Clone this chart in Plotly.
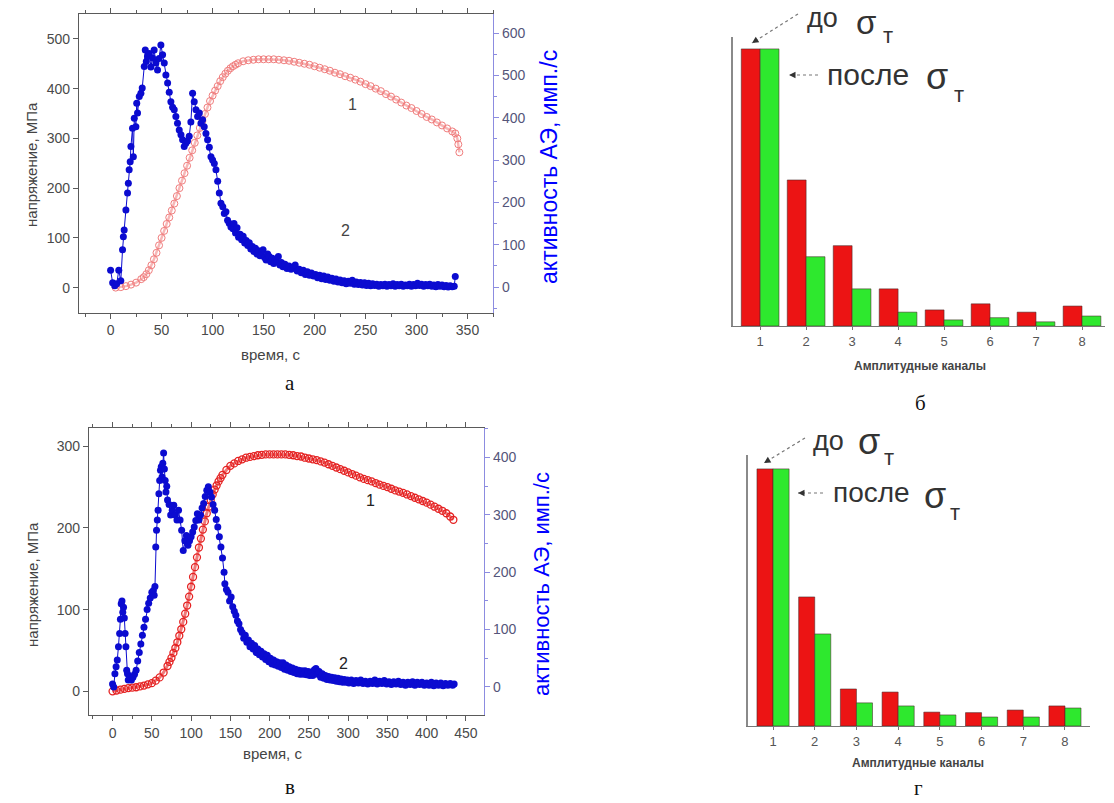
import plotly.graph_objects as go

W, H = 1114, 803

# ---------------- Panel a: stress (curve 1) ----------------
a_stress_t = [5, 10, 15, 20, 25, 30, 32.5, 35, 37.5, 40, 42.5, 45, 47.5, 50, 52.5, 55, 57.5, 60, 62.5, 65,
              67.5, 70, 72.5, 75, 77.5, 80, 82.5, 85, 87.5, 90, 92.5, 95, 97.5, 100, 102.5, 105, 107.5, 110,
              112.5, 115, 117.5, 120, 122.5, 125, 130, 135, 140, 145, 150, 155, 160, 165, 170, 175, 180, 185,
              190, 195, 200, 205, 210, 215, 220, 225, 230, 235, 240, 245, 250, 255, 260, 265, 270, 275, 280,
              285, 290, 295, 300, 305, 310, 315, 320, 325, 330, 335, 338, 340, 341, 342]
a_stress_mpa = [0, 1, 3, 6, 10, 17, 21, 27, 35, 45, 57, 70, 85, 100, 114, 128, 141, 155, 169, 184,
                200, 215, 230, 245, 261, 276, 291, 306, 321, 335, 349, 362, 375, 386, 396, 405, 415, 423,
                430, 436, 441, 445, 448, 451, 455, 457, 458, 459, 459, 459, 459, 458, 457, 456, 454, 452,
                450, 448, 445, 442, 439, 436, 432, 429, 425, 422, 418, 414, 409, 405, 400, 395, 389, 384, 378,
                372, 366, 361, 355, 349, 343, 338, 332, 326, 320, 314, 310, 300, 288, 272]

# ---------------- Panel a: AE activity (curve 2) ----------------
a_ae_t_rise = [0, 2, 4, 6, 8, 10, 11.7, 12.5, 13.3, 15, 16.6, 17.4, 18.2, 19.2, 19.9, 21.5, 22.3, 23.2, 24.8,
               25.6, 26.4, 28.1, 29.7, 31, 33, 34, 35, 36.2, 37.9, 39.5, 41.1, 42.7, 44.4, 46, 47.6, 49.3,
               51, 52.6, 54.2, 55.9, 57.5, 59.1, 60.8, 62.4, 64, 65.6, 67.3, 69, 70.6, 72.2, 73.8, 75.4,
               77.1, 78.7, 80.4, 82, 83.7, 85.3, 87, 88.6, 90.2, 91.8, 93.5, 95.1, 96.8, 98.4, 100, 101.7,
               103.3, 105, 106.6, 108.2, 110, 111.5, 113.1, 114.7, 116.3, 118]
a_ae_v_rise = [40, 10, 3, 8, 40, 15, 88, 119, 135, 182, 222, 245, 277, 296, 332, 375, 308, 399, 379,
               434, 411, 450, 458, 470, 521, 560, 533, 545, 552, 520, 541, 560, 529, 513, 540, 572,
               549, 529, 501, 482, 460, 438, 425, 419, 403, 387, 371, 360, 348, 332, 340, 345,
               356, 390, 458, 438, 419, 403, 411, 387, 395, 379, 363, 348, 330, 308, 300, 292,
               277, 250, 222, 198, 190, 174, 178, 158, 151, 142]
a_ae_t_tail = [120, 121, 122.5, 124, 125.5, 127, 128.5, 130, 131.5, 133, 134.5, 136, 137.5, 139, 140.5, 142,
               143.5, 145, 146.5, 148, 149.5, 151, 152.5, 154, 155.5, 157, 158.5, 160, 161.5, 163, 164.5,
               166, 167.5, 169,
               171, 173, 175, 177, 179, 181, 183, 185, 187, 189, 191, 193, 195, 197, 199, 201, 203, 205,
               207, 209, 211, 213, 215, 217, 219, 221, 223, 225, 227, 229, 231, 233, 235, 237, 239, 241,
               243, 245, 247, 249, 251, 253, 255, 257, 259, 261, 263, 265, 267, 269, 271, 273, 275, 277,
               279, 281, 283, 285, 287, 289, 291, 293, 295, 297, 299, 301, 303, 305, 307, 309, 311, 313,
               315, 317, 319, 321, 323, 325, 327, 329, 331, 333, 335, 337, 338]
a_ae_v_tail = [138, 150, 128, 140, 118, 125, 112, 120, 104, 110, 98, 105, 90, 96, 84, 92,
               78, 86, 74, 82, 88, 70, 64, 78, 72, 60, 68, 56, 66, 60, 72,
               52, 58, 48,
               54, 44, 50, 42, 46, 52, 38, 42, 34, 40, 30, 36, 28, 33, 26, 30, 22, 28,
               20, 26, 18, 24, 16, 21, 14, 19, 12, 17, 10, 15, 8, 14, 9, 16, 7, 12,
               6, 11, 5, 10, 4, 9, 3, 8, 4, 7, 2, 6, 3, 7, 2, 6, 3, 8,
               2, 6, 3, 7, 2, 5, 3, 7, 2, 6, 3, 9, 4, 7, 2, 6, 3, 7,
               2, 5, 1, 6, 2, 5, 1, 4, 0, 3, 1, 2, 25]

# ---------------- Panel v: stress (curve 1) ----------------
v_stress_t = [0, 5, 10, 15, 20, 25, 30, 35, 40, 45, 50, 55, 60, 65, 70, 72.5, 75, 77.5, 80, 82.5, 85, 87.5,
              90, 92.5, 95, 97.5, 100, 102.5, 105, 107.5, 110, 112.5, 115, 117.5, 120, 122.5, 125, 127.5,
              130, 132.5, 135, 137.5, 140, 145, 150, 155, 160, 165, 170, 175, 180, 185, 190, 195, 200, 205,
              210, 215, 220, 225, 230, 235, 240, 245, 250, 255, 260, 265, 270, 275, 280, 285, 290, 295,
              300, 305, 310, 315, 320, 325, 330, 335, 340, 345, 350, 355, 360, 365, 370, 375, 380, 385,
              390, 395, 400, 405, 410, 415, 420, 425, 430, 434]
v_stress_mpa = [0, 1, 2, 3, 4, 4.5, 5, 6, 7, 8.5, 10, 13, 17, 23, 31, 36, 41, 47, 53, 60, 68, 76,
                85, 95, 105, 116, 128, 140, 152, 164, 176, 187, 198, 208, 218, 226, 234, 241,
                247, 252, 257, 261, 265, 271, 276, 279, 282, 284, 286, 287, 288, 289, 289.5, 290, 290, 290,
                290, 290, 290, 289.5, 289, 288, 287.5, 286, 285, 284, 283, 281.5, 280, 278, 276, 274, 272, 270,
                268, 266, 264, 262, 260, 258.5, 257, 255, 253, 251.5, 250, 248, 246, 244.5, 243, 241, 239, 237,
                235, 233, 231, 228.5, 226, 223.5, 221, 218, 214, 210]

# ---------------- Panel v: AE activity (curve 2) ----------------
v_ae_t_rise = [0, 1.5, 3, 4.5, 6, 7.5, 9, 10, 11, 12, 13, 14, 15, 16, 17, 18, 19, 20,
               22, 24, 26, 28, 30, 32, 34, 36, 38, 40, 42, 44, 46, 48, 50, 52,
               53, 54, 55, 56, 57, 58, 59, 60, 61, 62, 63, 64, 65, 66, 67, 68, 69, 70,
               72, 74, 76, 78, 80, 82, 84, 86, 88, 90, 92, 94, 96, 98, 100, 102, 104, 106, 108, 110,
               112, 114, 116, 118, 120, 122, 124, 126, 128, 130, 132, 134, 136, 138, 140, 142]
v_ae_v_rise = [5, 0, 23, 35, 47, 70, 93, 118, 145, 150, 130, 139, 120, 93, 70, 29, 23, 12,
               18, 12, 17, 22, 29, 45, 60, 75, 90, 104, 118, 135, 146, 155, 165, 168,
               160, 175, 244, 273, 291, 308, 337, 360, 378, 384, 366, 390, 408, 380, 360, 340, 350, 326,
               318, 300, 308, 317, 300, 291, 308, 291, 273, 238, 255, 264, 247, 255, 262, 270, 279, 290, 302, 291,
               300, 312, 320, 332, 343, 349, 340, 331, 318, 308, 292, 279, 262, 244, 225, 200]
v_ae_t_tail = [143, 145, 147, 149, 151, 153, 155, 157, 159, 161, 163, 165, 167, 169, 171, 173, 175, 177, 179,
               181, 183, 185, 187, 189, 191, 193, 195, 197, 199, 201, 203, 205, 207, 209, 211, 213, 215,
               217, 219, 221, 223, 225, 227, 229, 231, 233, 235, 237, 239, 241, 243, 245, 247, 249, 251,
               253, 255, 257, 259, 261, 263, 265, 267, 269, 271, 273, 275, 277, 279, 281, 283, 285, 287,
               289, 291, 293, 295, 297, 299,
               301, 304, 307, 310, 313, 316, 319, 322, 325, 328, 331, 334, 337, 340, 343, 346, 349, 352,
               355, 358, 361, 364, 367, 370, 373, 376, 379, 382, 385, 388, 391, 394, 397, 400, 403, 406,
               409, 412, 415, 418, 421, 424, 427, 430, 433, 435]
v_ae_v_tail = [180, 170, 165, 150, 157, 140, 132, 125, 115, 110, 100, 95, 85, 90, 78, 82, 70, 76, 66,
               72, 60, 66, 56, 62, 52, 58, 48, 55, 44, 50, 40, 47, 38, 44, 36, 42, 34,
               42, 31, 38, 29, 35, 27, 33, 25, 31, 23, 29, 22, 28, 22, 28, 21, 27, 20,
               26, 20, 30, 32, 22, 27, 17, 23, 15, 20, 13, 18, 12, 17, 11, 16, 10, 15,
               9, 14, 8, 13, 8, 12,
               7, 12, 6, 11, 7, 12, 6, 10, 5, 10, 6, 12, 5, 10, 6, 11, 5, 9,
               4, 9, 5, 10, 4, 8, 3, 8, 4, 9, 3, 8, 4, 8, 3, 7, 3, 8,
               2, 7, 3, 7, 2, 6, 3, 6, 3, 5]

# ---------------- Bar panels ----------------
channels = [1, 2, 3, 4, 5, 6, 7, 8]
b_before = [100, 52.7, 29, 13.4, 5.8, 8, 5, 7.2]
b_after = [100, 25, 13.4, 5, 2.2, 3, 1.5, 3.6]
g_before = [100, 50.2, 14.4, 13.2, 5.4, 5.2, 6.2, 7.8]
g_after = [100, 35.8, 9, 7.8, 4.3, 3.5, 3.5, 7]

FONT = "Liberation Sans, Arial, sans-serif"
RED_A = "#f07c7c"
RED_V = "#e52222"
BLUE = "#0b0bd0"
BAR_RED = "#ec1414"
BAR_GREEN = "#2ee82e"


def px(x):
    return x / W


def py(y):
    return 1 - y / H


fig = go.Figure()

# Panel a
fig.add_trace(go.Scatter(x=a_stress_t, y=a_stress_mpa, mode="lines+markers", xaxis="x", yaxis="y",
                         line=dict(color="rgba(240,124,124,0.55)", width=2.5),
                         marker=dict(symbol="circle-open", size=7, color=RED_A, line=dict(width=1))))
fig.add_trace(go.Scatter(x=a_ae_t_rise + a_ae_t_tail, y=a_ae_v_rise + a_ae_v_tail, mode="lines+markers",
                         xaxis="x", yaxis="y2", line=dict(color=BLUE, width=1),
                         marker=dict(size=7, color=BLUE)))
# Panel v
fig.add_trace(go.Scatter(x=v_stress_t, y=v_stress_mpa, mode="lines+markers", xaxis="x3", yaxis="y3",
                         line=dict(color="rgba(229,34,34,0.6)", width=3),
                         marker=dict(symbol="circle-open", size=7, color=RED_V, line=dict(width=1.3))))
fig.add_trace(go.Scatter(x=v_ae_t_rise + v_ae_t_tail, y=v_ae_v_rise + v_ae_v_tail, mode="lines+markers",
                         xaxis="x3", yaxis="y4", line=dict(color=BLUE, width=1),
                         marker=dict(size=7, color=BLUE)))
# Bars б
bar_line = dict(color="rgba(70,40,40,0.55)", width=1)
fig.add_trace(go.Bar(x=channels, y=b_before, xaxis="x5", yaxis="y5", width=0.41, offset=-0.41,
                     marker=dict(color=BAR_RED, line=bar_line)))
fig.add_trace(go.Bar(x=channels, y=b_after, xaxis="x5", yaxis="y5", width=0.41, offset=0,
                     marker=dict(color=BAR_GREEN, line=bar_line)))
# Bars г
fig.add_trace(go.Bar(x=channels, y=g_before, xaxis="x6", yaxis="y6", width=0.385, offset=-0.385,
                     marker=dict(color=BAR_RED, line=bar_line)))
fig.add_trace(go.Bar(x=channels, y=g_after, xaxis="x6", yaxis="y6", width=0.385, offset=0,
                     marker=dict(color=BAR_GREEN, line=bar_line)))

tickfont = dict(family=FONT, size=14, color="#4a4a4a")
rtickfont = dict(family=FONT, size=14, color="#55557a")
GRAY = "#5a5a5a"
LBLUE = "#8c8ce0"

common_x = dict(showline=True, linecolor=GRAY, linewidth=1.2, mirror="ticks", ticks="outside",
                ticklen=5, tickcolor=GRAY, tickfont=tickfont, showgrid=False, zeroline=False)
common_yl = dict(showline=True, linecolor=GRAY, linewidth=1.2, ticks="outside", ticklen=5, tickcolor=GRAY,
                 tickfont=tickfont, showgrid=False, zeroline=False)
common_yr = dict(showline=True, linecolor=LBLUE, linewidth=1.2, ticks="outside", ticklen=5, tickcolor=LBLUE,
                 tickfont=rtickfont, showgrid=False, zeroline=False, side="right")

bar_x = dict(showline=True, linecolor="#777", linewidth=1, ticks="outside", ticklen=3, tickcolor="#777",
             tickvals=channels, tickfont=dict(family=FONT, size=13, color="#555"), showgrid=False,
             zeroline=False)
bar_y = dict(showline=True, linecolor="#8a8a8a", linewidth=1.5, ticks="", showticklabels=False,
             showgrid=False, zeroline=False)

minor_x = dict(ticks="outside", ticklen=3, tickcolor=GRAY, dtick=25, tick0=0)
minor_r = dict(ticks="outside", ticklen=3, tickcolor=LBLUE, dtick=50, tick0=0)

fig.update_layout(
    width=W, height=H, margin=dict(l=0, r=0, t=0, b=0), paper_bgcolor="white", plot_bgcolor="white",
    showlegend=False, barmode="overlay",
    xaxis=dict(common_x, domain=[px(79), px(493)], range=[-31, 375], tickvals=list(range(0, 351, 50)),
               minor=minor_x, anchor="y"),
    yaxis=dict(common_yl, domain=[py(312.5), py(14)], range=[-50, 550], tickvals=list(range(0, 501, 100)),
               anchor="x"),
    yaxis2=dict(common_yr, overlaying="y", anchor="x", range=[-60, 645], tickvals=list(range(0, 601, 100)),
                minor=minor_r),
    xaxis3=dict(common_x, domain=[px(89), px(484)], range=[-30, 473], tickvals=list(range(0, 451, 50)),
                minor=minor_x, anchor="y3"),
    yaxis3=dict(common_yl, domain=[py(715), py(428.3)], range=[-29, 322], tickvals=[0, 100, 200, 300],
                anchor="x3"),
    yaxis4=dict(common_yr, overlaying="y3", anchor="x3", range=[-49, 451], tickvals=[0, 100, 200, 300, 400],
                minor=minor_r),
    xaxis5=dict(bar_x, domain=[px(733), px(1105)], range=[0.41, 8.5], anchor="y5"),
    yaxis5=dict(bar_y, domain=[py(326), py(37)], range=[0, 104.3], anchor="x5"),
    xaxis6=dict(bar_x, domain=[px(748), px(1090)], range=[0.4, 8.6], anchor="y6"),
    yaxis6=dict(bar_y, domain=[py(726), py(455)], range=[0, 105.4], anchor="x6"),
)

ann = []


def text(x, y, s, size, color="#444", family=FONT, angle=0, **kw):
    ann.append(dict(x=px(x), y=py(y), xref="paper", yref="paper", text=s, showarrow=False,
                    font=dict(family=family, size=size, color=color), textangle=angle,
                    xanchor="center", yanchor="middle", **kw))


# axis titles
text(32, 165, "напряжение, МПа", 15, angle=-90)
text(270, 354, "время, с", 15)
text(549, 167, "активность АЭ, имп./с", 23, color="#0000ff", angle=-90)
text(32, 585, "напряжение, МПа", 15, angle=-90)
text(272, 753, "время, с", 15)
text(541, 584, "активность АЭ, имп./с", 22, color="#0000ff", angle=-90)
# curve numbers
text(352, 105, "1", 16)
text(345, 230, "2", 16)
text(370, 500, "1", 16, color="#222")
text(343, 663, "2", 16, color="#222")
# bar axis titles
text(920, 366, "<b>Амплитудные каналы</b>", 12, color="#444")
text(918, 763, "<b>Амплитудные каналы</b>", 12, color="#444")
# panel letters
SERIF = "Liberation Serif, Times New Roman, serif"
text(290, 383, "а", 21, color="#111", family=SERIF)
text(920, 403, "б", 21, color="#111", family=SERIF)
text(290, 787, "в", 21, color="#111", family=SERIF)
text(918, 788, "г", 21, color="#111", family=SERIF)
# sigma labels б
text(822, 18, "до", 27, color="#333")
text(866, 22, "σ", 33, color="#333")
text(888, 36, "т", 22, color="#333")
text(868, 74, "после", 30, color="#333")
text(937, 76, "σ", 36, color="#333")
text(959, 94, "т", 22, color="#333")
# sigma labels г
text(828, 441, "до", 27, color="#333")
text(869, 441, "σ", 36, color="#333")
text(889, 458, "т", 22, color="#333")
text(871, 492, "после", 28, color="#333")
text(935, 495, "σ", 36, color="#333")
text(955, 512, "т", 22, color="#333")

shapes = []


def dashed_arrow(x0, y0, x1, y1):
    shapes.append(dict(type="line", xref="paper", yref="paper", x0=px(x0), y0=py(y0), x1=px(x1), y1=py(y1),
                       line=dict(color="#777", width=1.2, dash="dot")))
    dx, dy = x0 - x1, y0 - y1
    n = (dx * dx + dy * dy) ** 0.5
    ann.append(dict(x=px(x1), y=py(y1), xref="paper", yref="paper", text="", showarrow=True,
                    ax=dx / n * 7, ay=dy / n * 7, arrowhead=2, arrowsize=1, arrowwidth=1.3,
                    arrowcolor="#333"))


dashed_arrow(798, 14, 752, 43)
dashed_arrow(818, 75, 789, 75)
dashed_arrow(805, 438, 764, 463)
dashed_arrow(823, 493, 798, 493)

fig.update_layout(annotations=ann, shapes=shapes)
fig.write_html("out.html")
